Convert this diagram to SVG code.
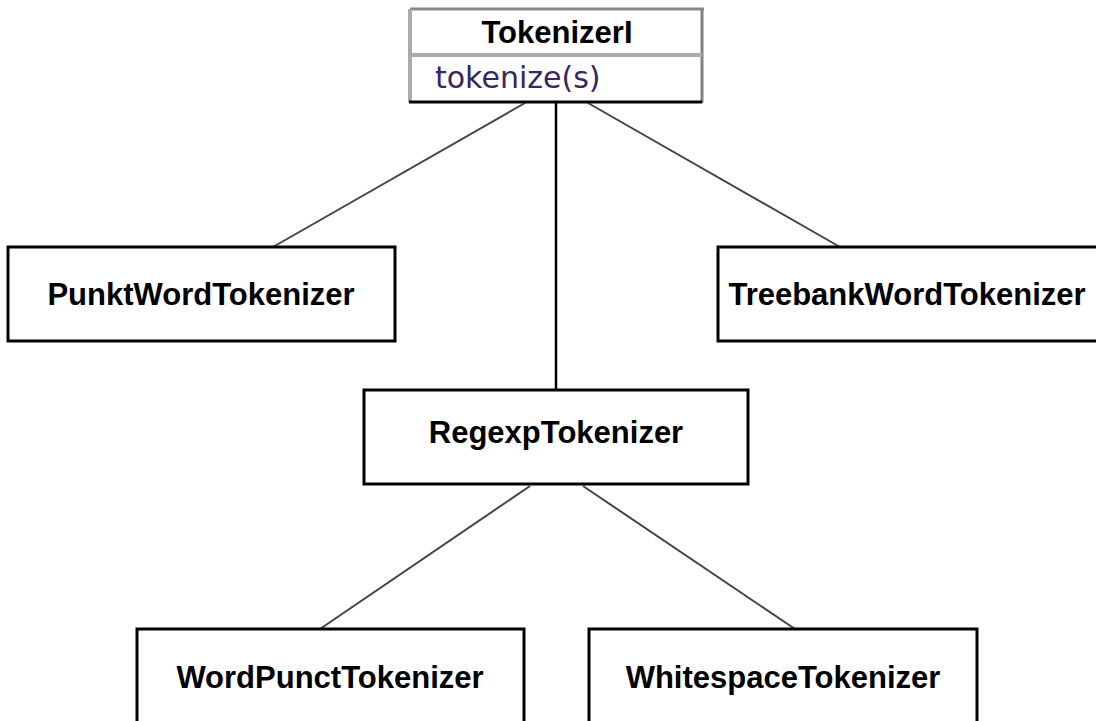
<svg xmlns="http://www.w3.org/2000/svg" width="1096" height="721" viewBox="0 0 1096 721">
  <style>
    .box { fill: #ffffff; stroke: #000000; stroke-width: 3; }
    .label { font-family: "Liberation Sans", Arial, sans-serif; font-weight: bold; font-size: 31px; fill: #000000; text-anchor: middle; }
    .method { font-family: "DejaVu Sans", sans-serif; font-size: 30px; fill: #35285e; }
    .edge { stroke: #444444; stroke-width: 2; fill: none; }
    .edge-strong { stroke: #000000; stroke-width: 2.5; fill: none; }
  </style>

  <rect width="1096" height="721" fill="#ffffff"/>

  <!-- connectors -->
  <g id="connectors">
    <line class="edge" x1="525" y1="103" x2="273" y2="247"/>
    <line class="edge-strong" x1="556" y1="103" x2="556" y2="390"/>
    <line class="edge" x1="588" y1="103" x2="840" y2="247"/>
    <line class="edge" x1="530" y1="486" x2="320" y2="629"/>
    <line class="edge" x1="583" y1="486" x2="795" y2="629"/>
  </g>

  <!-- interface class with one method -->
  <g id="tokenizerI">
    <rect x="410" y="9" width="292" height="92" fill="#ffffff"/>
    <line x1="410" y1="9" x2="704" y2="9" stroke="#888888" stroke-width="3"/>
    <line x1="410" y1="9" x2="410" y2="102" stroke="#aaaaaa" stroke-width="4"/>
    <line x1="702" y1="9" x2="702" y2="103" stroke="#808080" stroke-width="3"/>
    <line x1="410" y1="55" x2="702" y2="55" stroke="#aaaaaa" stroke-width="4"/>
    <line x1="409" y1="102" x2="702" y2="102" stroke="#000000" stroke-width="3"/>
    <text class="label" x="557" y="43">TokenizerI</text>
    <text class="method" x="435" y="88">tokenize(s)</text>
  </g>

  <g id="punktWordTokenizer">
    <rect class="box" x="8" y="247" width="387" height="94"/>
    <text class="label" x="201" y="305">PunktWordTokenizer</text>
  </g>

  <g id="treebankWordTokenizer">
    <rect class="box" x="718" y="247" width="382" height="94"/>
    <text class="label" x="907" y="305">TreebankWordTokenizer</text>
  </g>

  <g id="regexpTokenizer">
    <rect class="box" x="364" y="390" width="384" height="94"/>
    <text class="label" x="556" y="443">RegexpTokenizer</text>
  </g>

  <g id="wordPunctTokenizer">
    <rect class="box" x="137" y="629" width="387" height="100"/>
    <text class="label" x="330" y="688">WordPunctTokenizer</text>
  </g>

  <g id="whitespaceTokenizer">
    <rect class="box" x="589" y="629" width="388" height="100"/>
    <text class="label" x="783" y="688">WhitespaceTokenizer</text>
  </g>
</svg>
